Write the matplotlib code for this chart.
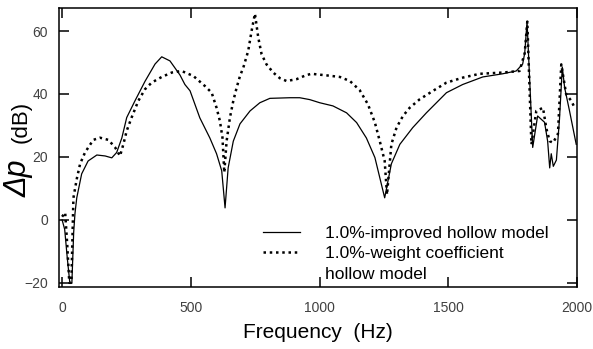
# Frequency response comparison: improved hollow model vs weight coefficient hollow model
import numpy as np
import matplotlib
matplotlib.use('Agg')
import matplotlib.pyplot as plt
from matplotlib.lines import Line2D

plt.rcParams['font.family'] = ['Liberation Sans', 'DejaVu Sans']

# --- data (Hz, dB)
improved_freq = [0, 10, 20, 30, 38, 45, 50, 57, 76, 101, 135, 167, 193, 212, 232,
                 251, 283, 322, 361, 387, 419, 458, 477, 497, 535, 574, 600, 620,
                 633, 645, 665, 691, 730, 768, 807, 885, 923, 962, 1001, 1052,
                 1105, 1144, 1182, 1215, 1234, 1253, 1279, 1312, 1362, 1415, 1493,
                 1556, 1634, 1711, 1764, 1789, 1797, 1806, 1828, 1847, 1874, 1886,
                 1894, 1900, 1908, 1920, 1932, 1943, 1952, 1971, 1997]
improved_db = [0, -3, -12, -20, -20, -4, 2, 7, 14.6, 18.7, 20.6, 20.3, 19.7, 21.4, 26,
               32.5, 37.8, 44, 49.5, 51.8, 50.5, 46, 43, 41, 32.4, 26, 21, 15.6,
               3.8, 16.5, 25, 30.5, 34.6, 37.2, 38.6, 38.8, 38.8, 38.2, 37.2, 36.2,
               34, 30.9, 26, 19.8, 13.4, 7, 17.8, 24, 29.3, 34, 40.4,
               43, 45.4, 46.4, 47.3, 49.5, 53, 63, 23, 33, 31, 25,
               16.5, 21, 17, 19, 32, 48.5, 42, 34.6, 24]

weight_freq = [0, 12, 20, 28, 36, 44, 57, 70, 89, 121, 147, 180, 206, 225, 238,
               251, 270, 296, 322, 348, 387, 426, 464, 510, 555, 581, 600, 613,
               623, 630, 639, 652, 665, 678, 691, 704, 723, 736, 749, 762, 775,
               794, 820, 846, 872, 911, 949, 969, 1027, 1079, 1118, 1156, 1188,
               1215, 1234, 1253, 1262, 1279, 1299, 1324, 1350, 1389, 1441, 1493,
               1557, 1622, 1712, 1777, 1797, 1807, 1823, 1842, 1868, 1881, 1894,
               1907, 1926, 1939, 1958, 1978, 1991]
weight_db = [1, 2.3, -8, -20, -20, 7, 13, 17.8, 21.4, 25.4, 26.1, 25.4, 23, 20.3, 24,
             28.3, 32.5, 37.8, 41.5, 43.6, 45.4, 46.8, 47.3, 45.7, 42.5, 40.4, 35.6, 31.4,
             26.1, 15, 25, 32.5, 37.8, 42, 45.7, 48.4, 53.7, 60, 65.5, 57.9, 52.6,
             49.4, 46.8, 45, 44.1, 44.7, 46, 46.4, 45.9, 45.4, 44.1, 41.2, 36.7,
             30.9, 25, 18.7, 8, 24, 29.3, 33, 35.6, 38.3, 41, 43.6,
             45.2, 46.4, 46.8, 47.3, 53, 63, 24, 34.6, 35.6, 29, 25,
             24.5, 27.3, 49.4, 39.9, 37.8, 35.6]

x_ticks = [0, 500, 1000, 1500, 2000]
y_ticks = [-20, 0, 20, 40, 60]

dots = (0, (1, 1.5))

fig = plt.figure(figsize=(5.93, 3.49), dpi=100)
ax = fig.add_axes([0.0995, 0.178, 0.8735, 0.799])

ax.plot(improved_freq, improved_db, color='black', linewidth=0.9)
ax.plot(weight_freq, weight_db, color='black', linewidth=1.8, linestyle=dots)

ax.set_xlim(-12, 2000)
ax.set_ylim(-21.3, 67.3)
ax.set_xticks(x_ticks)
ax.set_yticks(y_ticks)

for s in ax.spines.values():
    s.set_linewidth(1.1)
ax.tick_params(direction='in', length=7, width=1.1, top=True, right=True,
               labelsize=10, labelcolor='#404040')
ax.tick_params(axis='x', pad=10)
ax.tick_params(axis='y', pad=8)

ax.set_xlabel('Frequency  (Hz)', fontsize=15, labelpad=6)

# y label in two pieces: the symbol is drawn larger than the unit
fig.text(0.036, 0.652, '(dB)', rotation=90, fontsize=16, ha='center', va='center')
fig.text(0.032, 0.488, 'Δp', rotation=90, fontsize=22, style='italic',
         ha='center', va='center')

# legend: the second entry wraps onto a third row with no handle
handles = [Line2D([], [], color='black', linewidth=0.9),
           Line2D([], [], color='black', linewidth=1.8, linestyle=dots),
           Line2D([], [], color='none')]
labels = ['1.0%-improved hollow model', '1.0%-weight coefficient', 'hollow model']
ax.legend(handles, labels, loc='upper left', bbox_to_anchor=(0.394, 0.22),
          frameon=False, fontsize=12.5, handlelength=2.1, handletextpad=1.45,
          labelspacing=0.32, borderpad=0, borderaxespad=0)

fig.savefig('out.png', dpi=100)
